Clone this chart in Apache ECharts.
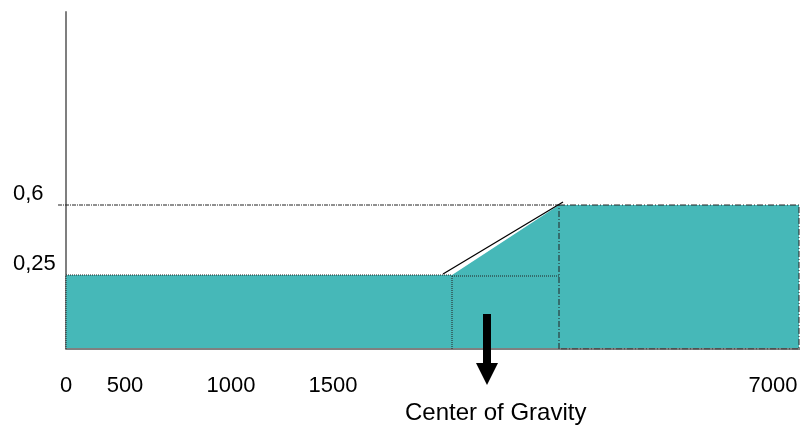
<!DOCTYPE html>
<html>
<head>
<meta charset="utf-8">
<script src="https://cdn.jsdelivr.net/npm/echarts@6/dist/echarts.min.js"></script>
<style>html,body{margin:0;padding:0;background:#fff}#c{width:801px;height:430px}</style>
</head>
<body>
<div id="c"></div>
<script>
// Schematic units (the reference axis is not to scale)
const xTickValues = [0, 59, 165, 267, 707];
const xTickLabels = ['0', '500', '1000', '1500', '7000'];
const yTickValues = [74, 144];
const yTickLabels = ['0,25', '0,6'];

const profile = [[0, 74], [386, 74], [493, 144], [733, 144]];
const lowTop = [[0, 74], [386, 74]];
const midTop = [[386, 73], [493, 73]];
const lowLeft = [[0, 0], [0, 74]];
const lowRight = [[386, 0], [386, 74]];
const rampRight = [[493, 0], [493, 144]];
const highBox = [[493, 144], [733, 144], [733, 0], [493, 0]];
const refLine06 = [[-8, 144], [493, 144]];
const slopeLine = [[377, 75], [497, 147]];
const baseLine = [[0, 0], [734, 0]];
const gravity = [[421, 35, -14, -36]];
const annotation = 'Center of Gravity';

const teal = '#46B8B8';
const dark = '#222';
const font = 'Liberation Sans, Arial, sans-serif';

function seg(data, style, z) {
  return { type: 'line', data: data, symbol: 'none', silent: true, z: z || 3,
    lineStyle: style, animation: false };
}

const chart = echarts.init(document.getElementById('c'));
chart.setOption({
  animation: false,
  title: { text: annotation, left: 400, top: 396,
    textStyle: { fontFamily: font, fontSize: 24, fontWeight: 'normal', color: '#000' } },
  grid: { left: 58, right: 1, top: 12, bottom: 81 },
  xAxis: { type: 'value', min: -8, max: 734,
    axisLine: { show: false }, axisTick: { show: false }, splitLine: { show: false },
    axisLabel: { customValues: xTickValues, margin: 26, fontFamily: font, fontSize: 22, color: '#000',
      formatter: v => xTickLabels[xTickValues.indexOf(v)] } },
  yAxis: { type: 'value', min: 0, max: 337,
    axisLine: { show: true, onZero: true, lineStyle: { color: '#7f7f7f', width: 2 } },
    axisTick: { show: false }, splitLine: { show: false },
    axisLabel: { customValues: yTickValues, margin: 45, align: 'left', verticalAlign: 'bottom',
      lineHeight: 22, fontFamily: font, fontSize: 22, color: '#000',
      formatter: v => yTickLabels[yTickValues.indexOf(v)] } },
  series: [
    { type: 'line', data: profile, symbol: 'none', lineStyle: { width: 0 },
      areaStyle: { color: teal, opacity: 1 }, z: 2 },
    seg(baseLine, { color: '#808080', width: 2 }, 2),
    seg(lowTop, { color: dark, width: 1, type: 'dotted' }),
    seg(midTop, { color: dark, width: 1, type: 'dotted' }),
    seg(lowLeft, { color: dark, width: 1, type: 'dotted' }),
    seg(lowRight, { color: dark, width: 1, type: 'dotted' }),
    seg(rampRight, { color: dark, width: 1, type: [6, 2, 1, 2] }),
    seg(highBox, { color: dark, width: 1, type: [6, 2, 1, 2] }),
    seg(refLine06, { color: dark, width: 1, type: [4, 1, 1, 1] }),
    seg(slopeLine, { color: '#000', width: 1.3 }),
    { type: 'custom', data: gravity, clip: false, z: 5,
      renderItem: function (params, api) {
        const x = api.value(0);
        const p0 = api.coord([x, api.value(1)]);
        const p1 = api.coord([x, api.value(2)]);
        const p2 = api.coord([x, api.value(3)]);
        return { type: 'group', children: [
          { type: 'rect', shape: { x: p0[0] - 4, y: p0[1], width: 8, height: p1[1] - p0[1] },
            style: { fill: '#000' } },
          { type: 'polygon', shape: { points: [[p1[0] - 11, p1[1]], [p1[0] + 11, p1[1]], [p2[0], p2[1]]] },
            style: { fill: '#000' } }
        ] };
      } }
  ]
});
</script>
</body>
</html>
